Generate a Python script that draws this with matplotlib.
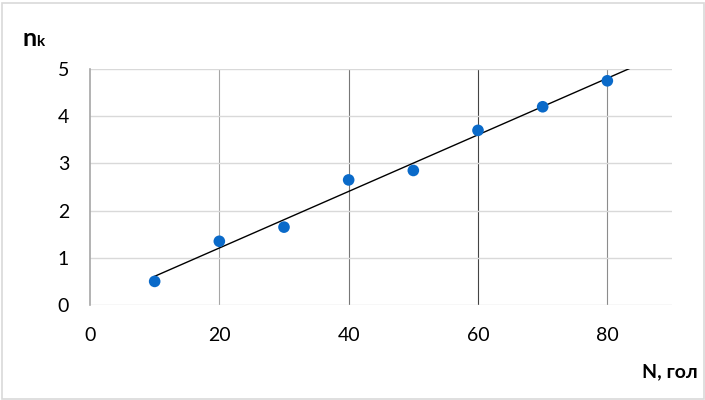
import numpy as np
import matplotlib.pyplot as plt
from matplotlib.patches import Rectangle

plt.rcParams["font.family"] = ["Lato", "DejaVu Sans"]

# data
n_heads = [10, 20, 30, 40, 50, 60, 70, 80]
n_k = [0.5, 1.35, 1.65, 2.65, 2.85, 3.7, 4.2, 4.75]
x_ticks = [0, 20, 40, 60, 80]
y_ticks = [0, 1, 2, 3, 4, 5]

fig = plt.figure(figsize=(7.05, 4.0), dpi=100)
ax = fig.add_axes([90 / 705, 1 - 305 / 400, 582 / 705, 236 / 400])

ax.set_xlim(0, 90)
ax.set_ylim(0, 5)

# gridlines (vertical ones look darker in the middle)
for gx, col in zip([20, 40, 60, 80], ["#a6a6a6", "#777777", "#444444", "#8c8c8c"]):
    ax.axvline(gx, color=col, lw=0.8, zorder=1)
for gy in y_ticks:
    ax.axhline(gy, color="#d9d9d9", lw=1.0, zorder=1)

for s in ["top", "right", "bottom"]:
    ax.spines[s].set_visible(False)
ax.spines["left"].set_color("#a6a6a6")
ax.spines["left"].set_linewidth(1.2)

# linear trendline
k, b = np.polyfit(n_heads, n_k, 1)
xt = np.array([n_heads[0], 90])
ax.plot(xt, k * xt + b, color="black", lw=1.0, zorder=2)

ax.scatter(n_heads, n_k, s=70, color="#0a6ac9", edgecolors="none", zorder=3)

ax.set_xticks(x_ticks)
ax.set_yticks(y_ticks)
ax.tick_params(length=0, labelsize=14, colors="black")
ax.tick_params(axis="x", pad=16)
ax.tick_params(axis="y", pad=15)

fig.text(22 / 705, 1 - 46 / 400, "n", fontsize=18, fontweight="bold", va="baseline")
fig.text(36 / 705, 1 - 46 / 400, "k", fontsize=11, fontweight="bold", va="baseline")
fig.text(698 / 705, 1 - 377 / 400, "N, гол", fontsize=14, fontweight="bold",
         ha="right", va="baseline")

fig.patches.append(Rectangle((1.5 / 705, 1.5 / 400), 702 / 705, 396 / 400,
                             transform=fig.transFigure, fill=False,
                             edgecolor="#d9d9d9", lw=1.2))

fig.savefig("out.png", dpi=100)
